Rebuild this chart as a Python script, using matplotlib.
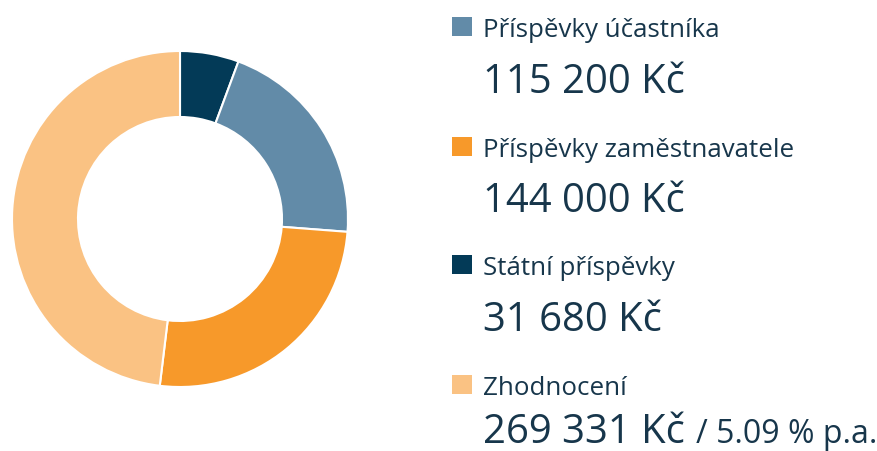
import matplotlib
matplotlib.use("Agg")
import matplotlib.pyplot as plt
from matplotlib.patches import Rectangle

# Data
categories = ["Státní příspěvky", "Příspěvky účastníka", "Příspěvky zaměstnavatele", "Zhodnocení"]
values = [31680, 115200, 144000, 269331]
colors = ["#033a57", "#628ba8", "#f7992a", "#fac283"]

legend_order = ["Příspěvky účastníka", "Příspěvky zaměstnavatele", "Státní příspěvky", "Zhodnocení"]
value_labels = {
    "Příspěvky účastníka": "115 200 Kč",
    "Příspěvky zaměstnavatele": "144 000 Kč",
    "Státní příspěvky": "31 680 Kč",
    "Zhodnocení": "269 331 Kč",
}
suffix = "/ 5.09 % p.a."

W, H = 877, 452
DPI = 100
text_color = "#17364b"
font = "Open Sans"

fig = plt.figure(figsize=(W / DPI, H / DPI), dpi=DPI)
fig.patch.set_facecolor("white")

# Donut
cx, cy, R, r_in = 180, 220, 168, 102
ax = fig.add_axes([(cx - R) / W, (H - cy - R) / H, 2 * R / W, 2 * R / H])
ax.pie(values, colors=colors, startangle=90, counterclock=False, radius=1,
       wedgeprops=dict(width=(R - r_in) / R, edgecolor="white", linewidth=1.5))
ax.set_xlim(-1, 1)
ax.set_ylim(-1, 1)
ax.set_aspect("equal")
ax.axis("off")

def fx(x):
    return x / W

def fy(y):
    return 1 - y / H

label_baselines = [37, 157, 275, 395]
value_baselines = [93, 212, 331, 443]
cmap = dict(zip(categories, colors))

renderer = fig.canvas.get_renderer()
for cat, lb, vb in zip(legend_order, label_baselines, value_baselines):
    fig.patches.append(Rectangle((fx(452), fy(lb)), 20 / W, 19 / H,
                                 transform=fig.transFigure, facecolor=cmap[cat],
                                 edgecolor="none"))
    fig.text(fx(483), fy(lb), cat, fontsize=18.6, family=font, color=text_color,
             va="baseline", ha="left")
    t = fig.text(fx(483), fy(vb), value_labels[cat], fontsize=28.8, family=font,
                 color=text_color, va="baseline", ha="left")
    if cat == "Zhodnocení":
        bb = t.get_window_extent(renderer=renderer)
        fig.text((bb.x1 + 11) / W, fy(vb), suffix, fontsize=23, family=font,
                 color=text_color, va="baseline", ha="left")

fig.savefig("out.png", dpi=DPI, facecolor="white")
